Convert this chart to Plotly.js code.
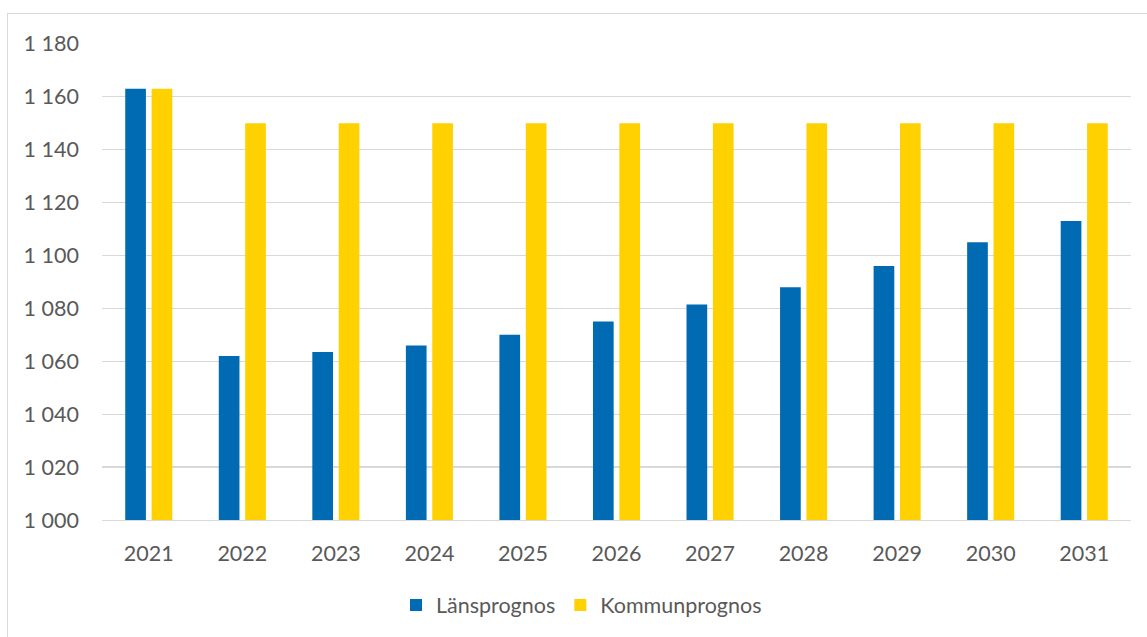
<!DOCTYPE html>
<html>
<head>
<meta charset="utf-8">
<script src="https://cdn.plot.ly/plotly-3.0.1.min.js"></script>
<style>
  html, body { margin: 0; padding: 0; background: #ffffff; }
  #wrap { position: relative; width: 1147px; height: 637px; overflow: hidden; }
  #frame { position: absolute; left: 7px; top: 13px; width: 1200px; height: 700px;
           border: 1px solid #d9d9d9; box-sizing: border-box; }
  #chart { position: absolute; left: 0; top: 0; width: 1147px; height: 637px; }
</style>
</head>
<body>
<div id="wrap">
  <div id="frame"></div>
  <div id="chart"></div>
</div>
<script>
const years = ['2021','2022','2023','2024','2025','2026','2027','2028','2029','2030','2031'];
const lansprognos = [1163, 1062, 1063.5, 1066, 1070, 1075, 1081.5, 1088, 1096, 1105, 1113];
const kommunprognos = [1163, 1150, 1150, 1150, 1150, 1150, 1150, 1150, 1150, 1150, 1150];
const seriesNames = ['Länsprognos', 'Kommunprognos'];
const yTicks = [1000, 1020, 1040, 1060, 1080, 1100, 1120, 1140, 1160, 1180];

const textColor = '#595959';
const font = { family: 'Lato, "Open Sans", sans-serif', size: 21.5, color: textColor };

const traces = [
  { type: 'bar', name: seriesNames[0], x: years, y: lansprognos,
    marker: { color: '#006AB3', line: { width: 0 } }, hoverinfo: 'x+y' },
  { type: 'bar', name: seriesNames[1], x: years, y: kommunprognos,
    marker: { color: '#FFD100', line: { width: 0 } }, hoverinfo: 'x+y' }
];

const layout = {
  width: 1147, height: 637,
  margin: { l: 102, r: 16, t: 43, b: 114 },
  paper_bgcolor: 'rgba(0,0,0,0)',
  plot_bgcolor: 'rgba(0,0,0,0)',
  separators: ', ',
  font: font,
  barmode: 'group',
  bargap: 0.436,
  bargroupgap: 0.216,
  showlegend: true,
  legend: {
    orientation: 'h', x: 0.466, xanchor: 'center', y: -0.178, yanchor: 'middle',
    font: font, traceorder: 'normal', itemclick: false
  },
  xaxis: {
    type: 'category',
    showgrid: false, zeroline: false,
    showline: true, linecolor: '#d9d9d9', linewidth: 1.3,
    ticks: '', ticklabelstandoff: 14,
    tickfont: font
  },
  yaxis: {
    range: [1000, 1180.3],
    tickvals: yTicks,
    tickformat: ',d',
    showgrid: true, gridcolor: '#d9d9d9', gridwidth: 1.3,
    zeroline: false, showline: false,
    ticks: '', ticklabelstandoff: 22,
    tickfont: font
  }
};

Plotly.newPlot('chart', traces, layout, { displayModeBar: false, staticPlot: true });
</script>
</body>
</html>
